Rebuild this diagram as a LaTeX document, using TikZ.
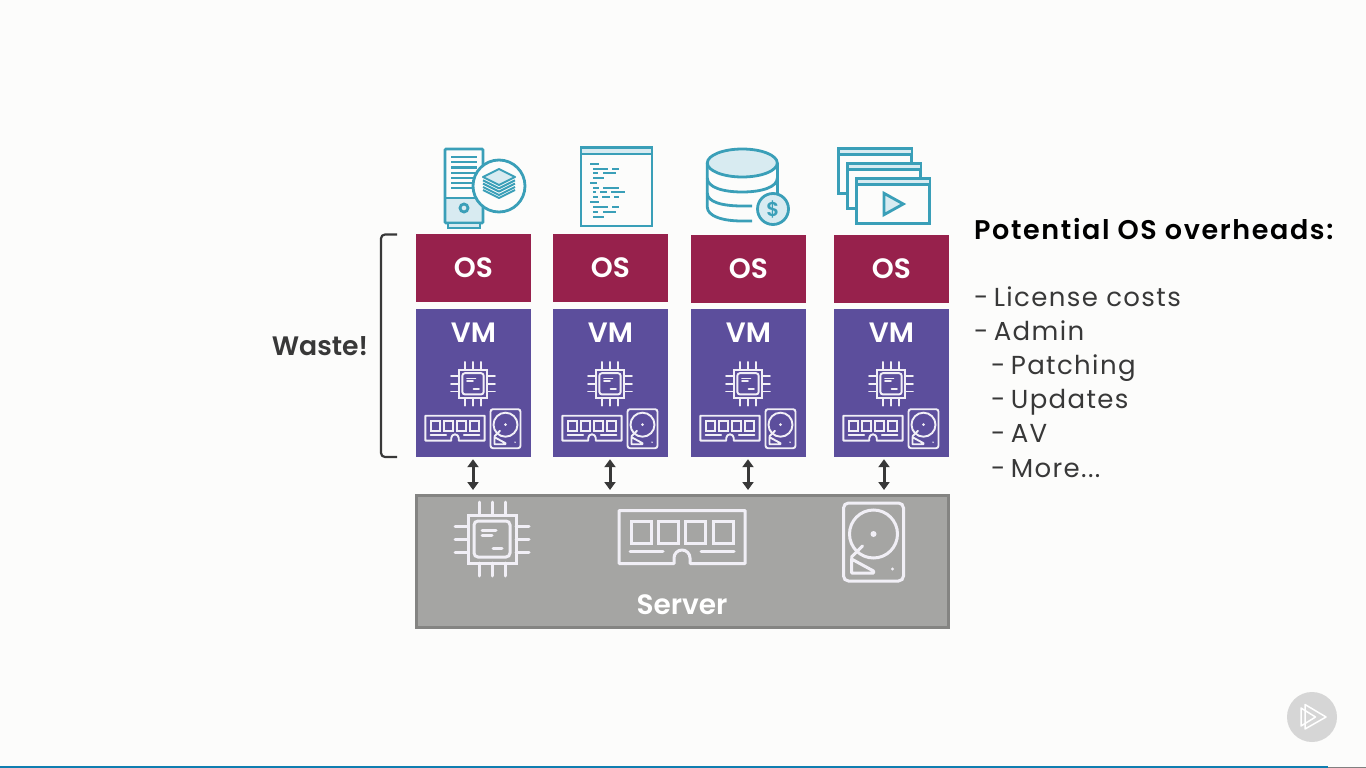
\documentclass[tikz,border=0pt]{standalone}
\usepackage{fontspec}
\setmainfont{Poppins}[BoldFont={Poppins SemiBold}]
\newfontfamily\listfont{Poppins}[LetterSpace=5.3]
\newfontfamily\boxfont{Poppins SemiBold}
\newfontfamily\headfont{Poppins SemiBold}[LetterSpace=6]
\usetikzlibrary{calc,positioning,arrows.meta}

\definecolor{pagebg}{HTML}{FCFCFB}
\definecolor{osred}{HTML}{97214C}
\definecolor{vmblue}{HTML}{5C4E9C}
\definecolor{servergray}{HTML}{A5A5A3}
\definecolor{serverline}{HTML}{848482}
\definecolor{teal}{HTML}{3A9FB8}
\definecolor{tealfill}{HTML}{D8EBF1}
\definecolor{darktext}{HTML}{383838}
\definecolor{chipline}{HTML}{F1EFF6}
\definecolor{barblue}{HTML}{0F7EB0}

\def\iconw{1.9pt}
\newcommand\listdash{-\hspace{-3pt} }

\tikzset{
  box/.style={rectangle,inner sep=0pt,minimum width=115pt,text=white,font=\boxfont\fontsize{28}{28}\selectfont},
  osbox/.style={box,fill=osred,minimum height=68pt},
  vmbox/.style={box,fill=vmblue,minimum height=148pt},
  iconline/.style={draw=chipline,line cap=round,line width=\iconw},
  tealline/.style={draw=teal,line width=2.8pt},
  listline/.style={anchor=base west,inner sep=0pt,text=darktext,font=\listfont\fontsize{26}{26}\selectfont},
  pics/chip/.style={code={
    \draw[iconline] (-24,-24) rectangle (24,24);
    \draw[iconline,rounded corners=#1] (-18,-18) rectangle (18,18);
    \foreach \p in {-13,0,13}
    {
      \draw[iconline] (\p,-24) -- (\p,-37);
      \draw[iconline] (\p,24) -- (\p,37);
      \draw[iconline] (-24,\p) -- (-37,\p);
      \draw[iconline] (24,\p) -- (37,\p);
    }
    \draw[iconline] (-10,-9) -- (4,-9);
    \draw[iconline] (-10,-4) -- (0,-4);
    \draw[iconline] (1,9) -- (10,9);
  }},
  pics/ram/.style={code={
    \draw[iconline,line join=round] (-63,-26.5) -- (63,-26.5) -- (63,26.5) -- (8,26.5) -- (8,21)
      arc[start angle=0,end angle=-180,radius=8] -- (-8,26.5) -- (-63,26.5) -- cycle;
    \foreach \p in {-51,-23.5,3.5,31}
      \draw[iconline] (\p,-16) rectangle +(20,22);
    \draw[iconline] (-52,14) -- (-19,14);
    \draw[iconline] (19,14) -- (52,14);
  }},
  pics/disk/.style={code={
    \draw[iconline,rounded corners=#1] (-30,-39) rectangle (30,39);
    \draw[iconline] (0,-8) circle[radius=24];
    \fill[chipline] (0,-8) circle[radius=3];
    \fill[chipline] (19,27) circle[radius=1.6];
    \draw[iconline,line join=round] (-22,17) -- (0,29) -- (0,31) -- (-22,31) -- cycle;
    \draw[iconline] (-22,15) -- (-11,4);
  }},
}

\begin{document}
\begin{tikzpicture}[x=1pt,y=-1pt]

  \useasboundingbox (0,0) rectangle (1366,768);
  \fill[pagebg] (0,0) rectangle (1366,768);
  \fill[barblue] (0,766) rectangle (1328,768);
  \fill[gray] (1328,767) rectangle (1366,768);

  \node (server) [rectangle,draw=serverline,line width=3pt,fill=servergray,inner sep=0pt,
    minimum width=532pt,minimum height=132pt] at (682.5,561.5) {};
  \node (server_label) [text=white,font=\boxfont\fontsize{28}{28}\selectfont] at (682,605) {Server};

  \foreach \c/\x/\y/\a in {0/473.5/268/473,1/610.5/268/610,2/748.5/269/748,3/891.5/269/884}
  {
    \node (os_\c) [osbox] at (\x,\y) {OS};
    \node (vm_\c) [vmbox] at (\x,383) {};
    \node (vm_label_\c) [text=white,font=\boxfont\fontsize{28}{28}\selectfont] at ($(vm_\c.north)+(0,23.5)$) {VM};
    \pic[scale=.59] at ($(vm_\c.north)+(-.5,75)$) {chip=2.5pt};
    \pic[scale=.47] at ($(vm_\c.south)+(-18.5,-29)$) {ram};
    \pic[scale=.5] at ($(vm_\c.south)+(32,-28.5)$) {disk=2.5pt};
    \coordinate (arrow_\c) at (\a,475);
    \draw [{Triangle[width=11pt,length=8pt]}-{Triangle[width=11pt,length=8pt]},line width=3pt,draw=darktext,
      shorten <=2pt,shorten >=4pt] (arrow_\c |- vm_\c.south) -- (arrow_\c |- server.north);
  }

  \def\iconw{3pt}
  \pic at (492,539) {chip=4pt};
  \pic at (682,537) {ram};
  \pic at (873.5,542) {disk=5pt};

  % icons above the OS boxes
  \fill[tealfill] (445,198) rectangle (483,223);
  \draw[tealline,rounded corners=1pt] (445,149) rectangle (483,223);
  \draw[tealline] (445,198) -- (483,198);
  \draw[tealline,fill=tealfill] (448,223) rectangle (480,228);
  \foreach \p in {157,162.2,167.4,172.6,177.8,183,188}
    \draw[teal,line width=2.2pt] (451,\p) -- (477,\p);
  \draw[tealline] (464,208) circle[radius=4];
  \draw[tealline,fill=pagebg] (499,186) circle[radius=26];
  \foreach \p in {13,10,6.6,3.3}
    \draw[teal,line width=2pt,line join=round] (483,{177+\p}) -- (499,{185+\p}) -- (515,{177+\p});
  \draw[teal,line width=2pt,fill=tealfill,line join=round] (499,169) -- (515,177) -- (499,185) -- (483,177) -- cycle;

  \draw[tealline] (581,147) rectangle (652,226);
  \draw[tealline,fill=tealfill,line width=2pt] (581,147.5) rectangle (652,153.5);
  \foreach \xa/\xb/\p in {590/599/164,593/608/169,612/619/169,593/598/173,603/616/173,593/604/178,
    590/597/183,593/599/188,603/619/188,593/596/192,600/607/192,611/625/192,593/598/197,602/610/197,614/619/197,
    590/599/202,593/608/207,612/619/207,593/598/212,603/616/212,593/604/217}
    \draw[teal,line width=2pt] (\xa,\p) -- (\xb,\p);

  \draw[tealline] (707.3,163) -- (707.3,207) .. controls (707.3,216) and (722,221) .. (742,221) -- (752,221);
  \draw[tealline] (777.3,163) -- (777.3,195);
  \draw[tealline] (707.3,178) .. controls (707.3,187) and (722,192) .. (742.3,192) .. controls (762,192) and (777.3,187) .. (777.3,178);
  \draw[tealline] (707.3,193) .. controls (707.3,202) and (722,206) .. (742.3,206) -- (752,206);
  \draw[tealline,fill=tealfill] (742.3,163) ellipse[x radius=35,y radius=14];
  \node (coin) [circle,draw=teal,line width=2.8pt,fill=tealfill,minimum size=31pt,inner sep=0pt,text=teal,
    font=\bfseries\fontsize{20}{20}\selectfont] at (773,209) {\$};

  \foreach \wx/\wy in {838.7/148.3,847.7/163.3,856.7/178.3}
  {
    \draw[tealline,fill=pagebg] (\wx,\wy) rectangle +(73,45);
    \draw[tealline,line width=2.4pt,fill=tealfill] (\wx,\wy) rectangle +(73,6);
  }
  \draw[tealline,fill=tealfill,line join=miter] (884,193.3) -- (903.3,204) -- (884,214.7) -- cycle;

  % waste bracket
  \draw[draw=darktext,line width=2.2pt,rounded corners=4pt] (397,234.5) -- (381,234.5) -- (381,457) -- (397,457);
  \node (waste) [text=darktext,font=\boxfont\fontsize{26.7}{27}\selectfont] at (320,346) {Waste!};

  % text on the right
  \node (heading) [anchor=base west,inner sep=0pt,text=black,font=\headfont\fontsize{27}{27}\selectfont] at (974,239) {Potential OS overheads:};
  \node (line_0) [listline] at (974,306) {\listdash License costs};
  \node (line_1) [listline] at (974,340) {\listdash Admin};
  \node (line_2) [listline] at (991,374) {\listdash Patching};
  \node (line_3) [listline] at (991,408) {\listdash Updates};
  \node (line_4) [listline] at (991,442) {\listdash AV};
  \node (line_5) [listline] at (991,477) {\listdash More...};

  % play badge
  \node (badge) [circle,fill=black!16,minimum size=50pt,inner sep=0pt] at (1312,717) {};
  \draw[white,line width=1.5pt,line join=round] (1305,704.5) -- (1326,717) -- (1305,729) -- cycle;
  \draw[white,line width=1.5pt,line join=round] (1301,708) -- (1315.5,717) -- (1301,726) -- cycle;

\end{tikzpicture}
\end{document}
